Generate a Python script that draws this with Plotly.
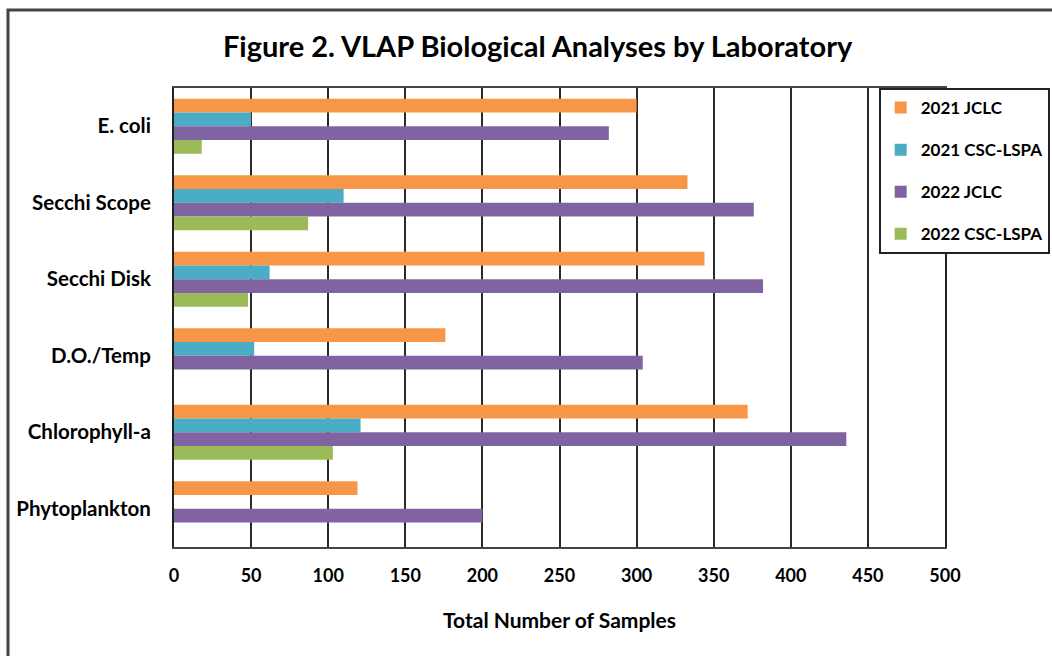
import plotly.graph_objects as go

categories = ["E. coli", "Secchi Scope", "Secchi Disk", "D.O./Temp", "Chlorophyll-a", "Phytoplankton"]
series_names = ["2021 JCLC", "2021 CSC-LSPA", "2022 JCLC", "2022 CSC-LSPA"]
jclc_2021 = [300, 333, 344, 176, 372, 119]
csc_2021 = [50, 110, 62, 52, 121, None]
jclc_2022 = [282, 376, 382, 304, 436, 200]
csc_2022 = [18, 87, 48, None, 103, None]
colors = ["#F79646", "#4BACC6", "#8064A2", "#9BBB59"]
x_ticks = [0, 50, 100, 150, 200, 250, 300, 350, 400, 450, 500]

FONT = "Lato, 'Open Sans', sans-serif"

fig = go.Figure()
for i, (name, vals) in enumerate(zip(series_names, [jclc_2021, csc_2021, jclc_2022, csc_2022])):
    fig.add_trace(go.Bar(
        y=categories, x=vals, name=name, orientation="h",
        marker=dict(color=colors[i], line=dict(width=0)),
        legendgroup=f"g{i}",
    ))

fig.update_layout(
    width=1052, height=656,
    paper_bgcolor="white", plot_bgcolor="white",
    barmode="group", bargap=0.28, bargroupgap=0,
    margin=dict(l=174, r=107, t=88, b=109, autoexpand=False),
    title=dict(text="<b>Figure 2. VLAP Biological Analyses by Laboratory</b>",
               x=0.511, xanchor="center", y=0.928, yanchor="middle",
               font=dict(family=FONT, size=29, color="black")),
    font=dict(family=FONT, color="black"),
    showlegend=True,
    legend=dict(x=0.914, xanchor="left", y=1.0, yanchor="top",
                bgcolor="white", bordercolor="#222", borderwidth=2,
                font=dict(family=FONT, size=17, color="black", weight="bold"),
                tracegroupgap=17, itemwidth=30,
                traceorder="grouped"),
    xaxis=dict(range=[0, 500], tickvals=x_ticks, showgrid=True,
               gridcolor="#2a2a2a", gridwidth=2,
               showline=True, linecolor="#444", linewidth=2, mirror=True,
               ticks="", ticklabelstandoff=11,
               tickfont=dict(family=FONT, size=18, color="black", weight="bold"),
               title=dict(text="<b>Total Number of Samples</b>", standoff=29,
                          font=dict(family=FONT, size=21, color="black")),
               zeroline=False),
    yaxis=dict(autorange="reversed", showgrid=False,
               showline=True, linecolor="#222", linewidth=2, mirror=True,
               ticks="", ticklabelstandoff=17,
               tickfont=dict(family=FONT, size=20.5, color="black", weight="bold")),
)

# outer chart border (partially outside the visible area)
fig.add_shape(type="rect", xref="paper", yref="paper",
              x0=(8 - 174) / 771, x1=1.3, y0=-0.4, y1=(547 - 10) / 459,
              line=dict(color="#444", width=3), fillcolor="rgba(0,0,0,0)", layer="below")

fig.write_html("out.html", config={"displayModeBar": False},
               post_script="document.body.style.margin='0';")
